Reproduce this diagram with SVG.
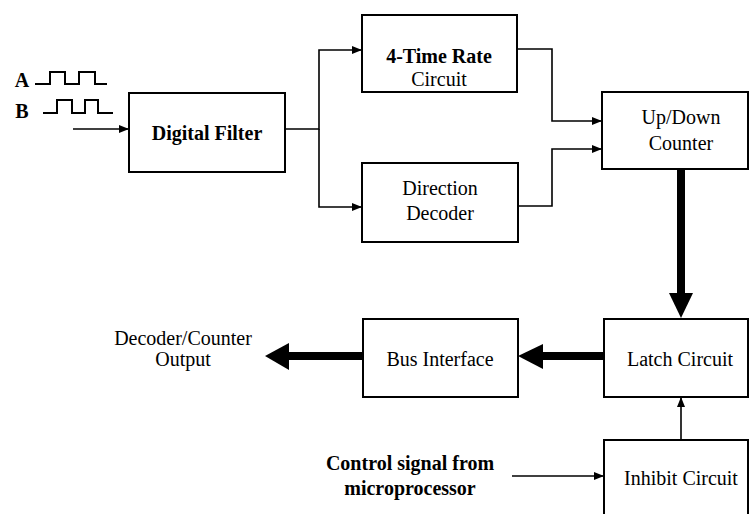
<svg xmlns="http://www.w3.org/2000/svg" width="749" height="514" viewBox="0 0 749 514">
<style>
.box{fill:#fff;stroke:#000;stroke-width:2}
.t{font-family:'Liberation Serif',serif;font-size:20px;fill:#000;text-anchor:middle}
.b{font-weight:bold}
.c{fill:none;stroke:#000;stroke-width:1.6}
.thick{fill:none;stroke:#000;stroke-width:8}
.wave{fill:none;stroke:#000;stroke-width:2}
</style>
<defs>
<marker id="ah" markerWidth="10" markerHeight="8" refX="9" refY="4" orient="auto" markerUnits="userSpaceOnUse">
<path d="M0,0 L10,4 L0,8 Z" fill="#000"/>
</marker>
</defs>
<rect width="749" height="514" fill="#fff"/>

<g id="signals">
<text class="t b" x="22" y="87">A</text>
<text class="t b" x="22" y="118">B</text>
<path class="wave" d="M35,84 H50 V72 H65 V84 H79 V72 H95 V84 H107"/>
<path class="wave" d="M43,113 H57 V100 H72 V113 H85 V100 H98 V113 H113"/>
</g>

<g id="digital-filter">
<rect class="box" x="129" y="93" width="156" height="79"/>
<text class="t b" x="207" y="140">Digital Filter</text>
</g>
<g id="rate-circuit">
<rect class="box" x="362" y="15" width="155" height="77"/>
<text class="t b" x="439" y="63">4-Time Rate</text>
<text class="t" x="439" y="86">Circuit</text>
</g>
<g id="direction-decoder">
<rect class="box" x="362" y="163" width="156" height="79"/>
<text class="t" x="440" y="195">Direction</text>
<text class="t" x="440" y="220">Decoder</text>
</g>
<g id="updown-counter">
<rect class="box" x="602" y="92" width="146" height="77"/>
<text class="t" x="681" y="124">Up/Down</text>
<text class="t" x="681" y="150">Counter</text>
</g>
<g id="latch-circuit">
<rect class="box" x="604" y="319" width="144" height="78"/>
<text class="t" x="680" y="366">Latch Circuit</text>
</g>
<g id="bus-interface">
<rect class="box" x="363" y="319" width="155" height="78"/>
<text class="t" x="440" y="366">Bus Interface</text>
</g>
<g id="inhibit-circuit">
<rect class="box" x="604" y="440" width="144" height="80"/>
<text class="t" x="681" y="485">Inhibit Circuit</text>
</g>
<g id="labels">
<text class="t" x="183" y="345">Decoder/Counter</text>
<text class="t" x="183" y="366">Output</text>
<text class="t b" x="410" y="470">Control signal from</text>
<text class="t b" x="410" y="495">microprocessor</text>
</g>

<g id="connectors">
<path class="c" d="M73,129 H128" marker-end="url(#ah)"/>
<path class="c" d="M285,129 H319 V50 H361" marker-end="url(#ah)"/>
<path class="c" d="M319,129 V207 H361" marker-end="url(#ah)"/>
<path class="c" d="M517,49 H552 V121 H601" marker-end="url(#ah)"/>
<path class="c" d="M518,206 H552 V149 H601" marker-end="url(#ah)"/>
<path class="c" d="M512,476 H603" marker-end="url(#ah)"/>
<path class="c" d="M681,440 V398" marker-end="url(#ah)"/>
<path class="thick" d="M681,169 V295"/>
<path d="M669,293 L693,293 L681,318 Z" fill="#000"/>
<path class="thick" d="M604,356 H540"/>
<path d="M543,344 L543,369 L518,356 Z" fill="#000"/>
<path class="thick" d="M363,356 H285"/>
<path d="M289,343 L289,370 L265,356 Z" fill="#000"/>
</g>
</svg>
